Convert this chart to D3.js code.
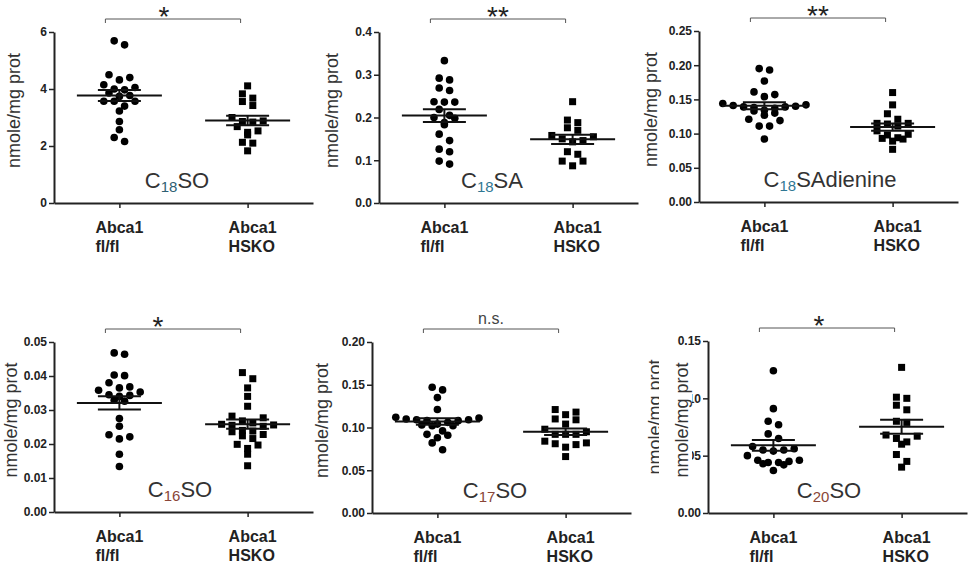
<!DOCTYPE html>
<html>
<head>
<meta charset="utf-8">
<script src="https://cdn.jsdelivr.net/npm/d3@7"></script>
<style>
body { margin: 0; background: #fff; }
text { font-family: "Liberation Sans", Arial, sans-serif; }
</style>
</head>
<body>
<svg id="chart" width="969" height="565"></svg>
<script>
var GROUPS = ["fl/fl", "HSKO"];
var GROUP_LINES = [["Abca1", "fl/fl"], ["Abca1", "HSKO"]];

// values (nmole/mg prot), one array per group
var c18so_flfl = [5.69, 5.55, 4.50, 4.40, 4.32, 4.15, 4.05, 4.00, 3.97, 3.86, 3.77, 3.74, 3.57, 3.57, 3.57, 3.40, 3.23, 2.86, 2.57, 2.30, 2.16];
var c18so_hsko = [4.11, 3.83, 3.68, 3.56, 3.42, 3.00, 2.88, 2.86, 2.84, 2.68, 2.53, 2.48, 2.39, 2.13, 2.10, 1.83];
var c18sa_flfl = [0.333, 0.292, 0.288, 0.269, 0.263, 0.237, 0.236, 0.236, 0.219, 0.205, 0.200, 0.198, 0.188, 0.183, 0.161, 0.146, 0.126, 0.120, 0.098, 0.091];
var c18sa_hsko = [0.237, 0.194, 0.188, 0.176, 0.170, 0.158, 0.155, 0.150, 0.146, 0.143, 0.120, 0.114, 0.098, 0.098, 0.087];
var c18sad_flfl = [0.195, 0.193, 0.177, 0.161, 0.157, 0.154, 0.144, 0.142, 0.141, 0.140, 0.139, 0.139, 0.138, 0.137, 0.134, 0.133, 0.130, 0.127, 0.121, 0.119, 0.111, 0.111, 0.092];
var c18sad_hsko = [0.160, 0.142, 0.129, 0.121, 0.115, 0.115, 0.114, 0.111, 0.104, 0.099, 0.098, 0.094, 0.093, 0.092, 0.089, 0.077];
var c16so_flfl = [0.0468, 0.0464, 0.0403, 0.0401, 0.0380, 0.0368, 0.0365, 0.0358, 0.0353, 0.0345, 0.0343, 0.0340, 0.0329, 0.0326, 0.0275, 0.0252, 0.0227, 0.0221, 0.0215, 0.0170, 0.0134];
var c16so_hsko = [0.0410, 0.0392, 0.0365, 0.0340, 0.0311, 0.0282, 0.0277, 0.0268, 0.0262, 0.0258, 0.0256, 0.0255, 0.0252, 0.0240, 0.0238, 0.0236, 0.0228, 0.0224, 0.0216, 0.0199, 0.0197, 0.0187, 0.0170, 0.0136];
var c17so_flfl = [0.147, 0.144, 0.135, 0.121, 0.112, 0.111, 0.110, 0.109, 0.109, 0.108, 0.108, 0.106, 0.104, 0.103, 0.102, 0.102, 0.096, 0.092, 0.091, 0.088, 0.082, 0.074];
var c17so_hsko = [0.121, 0.118, 0.115, 0.110, 0.109, 0.104, 0.098, 0.095, 0.092, 0.092, 0.092, 0.084, 0.082, 0.081, 0.080, 0.077, 0.066];
var c20so_flfl = [0.124, 0.091, 0.080, 0.077, 0.069, 0.065, 0.058, 0.056, 0.055, 0.055, 0.054, 0.050, 0.046, 0.046, 0.045, 0.044, 0.044, 0.043, 0.042, 0.037];
var c20so_hsko = [0.127, 0.101, 0.100, 0.094, 0.090, 0.080, 0.079, 0.068, 0.067, 0.065, 0.062, 0.060, 0.051, 0.045, 0.040];

var yTicks1 = [0, 2, 4, 6];
var yTicks2 = [0, 0.1, 0.2, 0.3, 0.4];
var yTicks3 = [0, 0.05, 0.10, 0.15, 0.20, 0.25];
var yTicks4 = [0, 0.01, 0.02, 0.03, 0.04, 0.05];
var yTicks5 = [0, 0.05, 0.10, 0.15, 0.20];
var yTicks6 = [0, 0.05, 0.10, 0.15];

var sigLabels = ["*", "**", "**", "*", "n.s.", "*"];

var panels = [
  {sub: "18", tail: "SO",        data: [c18so_flfl, c18so_hsko],   ticks: yTicks1, fmt: "d"},
  {sub: "18", tail: "SA",        data: [c18sa_flfl, c18sa_hsko],   ticks: yTicks2, fmt: ".1f"},
  {sub: "18", tail: "SAdienine", data: [c18sad_flfl, c18sad_hsko], ticks: yTicks3, fmt: ".2f"},
  {sub: "16", tail: "SO",        data: [c16so_flfl, c16so_hsko],   ticks: yTicks4, fmt: ".2f"},
  {sub: "17", tail: "SO",        data: [c17so_flfl, c17so_hsko],   ticks: yTicks5, fmt: ".2f"},
  {sub: "20", tail: "SO",        data: [c20so_flfl, c20so_hsko],   ticks: yTicks6, fmt: ".2f"}
];

// page layout of the six small plots
var layout = [
  {left: 54,  top: 32,  bottom: 203, yLabelX: 14,  labelX: 177, sigDx: -9,  subColor: "#2e5f73"},
  {left: 379, top: 32,  bottom: 203, yLabelX: 332, labelX: 492, sigDx: 0,   subColor: "#2f7793"},
  {left: 699, top: 31,  bottom: 202, yLabelX: 651, labelX: 830, sigDx: 0,   subColor: "#2f7793"},
  {left: 54,  top: 342, bottom: 512, yLabelX: 11,  labelX: 180, sigDx: -15, subColor: "#8a4637"},
  {left: 372, top: 342, bottom: 513, yLabelX: 322, labelX: 495, sigDx: 0,   subColor: "#8a4637"},
  {left: 708, top: 341, bottom: 513, yLabelX: 682, labelX: 829, sigDx: -8,  subColor: "#8a4637"}
];

var AXIS_W = 259;
var STEP = 10.4;   // horizontal spacing of points sharing a row
var ROW_GAP = 7;   // points closer than this (px) share a row
var MEAN_HALF = 42.5;
var SEM_HALF = 21.5;
var DOT_R = 3.8;
var SQ = 7;

var svg = d3.select("#chart");

// GraphPad-like column scatter: points in rows, spread around the column centre
function swarm(vals, y) {
  var pts = vals.map(function(v) { return {v: v, py: y(v)}; })
    .sort(function(a, b) { return a.py - b.py; });
  var rows = [], row = null;
  pts.forEach(function(p) {
    if (!row || p.py - row[0].py >= ROW_GAP) { row = [p]; rows.push(row); }
    else row.push(p);
  });
  rows.forEach(function(r) {
    var n = r.length;
    var slots = d3.range(n).map(function(i) { return (i - (n - 1) / 2) * STEP; });
    // outermost slots first, alternating sides, highest values go outside
    slots.sort(function(a, b) { return Math.abs(b) - Math.abs(a) || a - b; });
    r.sort(function(a, b) { return b.v - a.v; });
    r.forEach(function(p, i) { p.dx = slots[i]; });
  });
  return pts;
}

function yLabel(g, x, y) {
  g.append("text")
    .attr("transform", "translate(" + x + "," + y + ") rotate(-90)")
    .attr("text-anchor", "middle")
    .attr("dy", "0.35em")
    .attr("font-size", 18)
    .attr("fill", "#333")
    .text("nmole/mg prot");
}

panels.forEach(function(p, pi) {
  var L = layout[pi];
  var g = svg.append("g");
  var yMax = p.ticks[p.ticks.length - 1];
  var y = d3.scaleLinear().domain([0, yMax]).range([L.bottom, L.top]);
  var x = d3.scalePoint().domain(GROUPS).range([L.left, L.left + AXIS_W]).padding(0.51);

  var ya = g.append("g")
    .attr("transform", "translate(" + L.left + ",0)")
    .call(d3.axisLeft(y).tickValues(p.ticks).tickFormat(d3.format(p.fmt))
      .tickSize(5).tickPadding(2).tickSizeOuter(0));
  var xa = g.append("g")
    .attr("transform", "translate(0," + L.bottom + ")")
    .call(d3.axisBottom(x).tickSize(5).tickSizeOuter(0).tickFormat(""));
  [ya, xa].forEach(function(a) {
    a.select(".domain").attr("stroke", "#222").attr("stroke-width", 2);
    a.selectAll(".tick line").attr("stroke", "#222").attr("stroke-width", 1.5);
    a.selectAll(".tick text").attr("font-size", 12).attr("font-weight", "bold")
      .attr("fill", "#222").attr("font-family", "Liberation Sans, Arial, sans-serif");
  });

  // y axis title (panel 6 has a duplicated, half hidden title in the figure)
  var yMid = (L.top + L.bottom) / 2 - 7;
  if (pi == 5) {
    yLabel(g, L.yLabelX - 27, yMid - 3);
    g.append("rect").attr("x", L.yLabelX - 23).attr("y", L.top + 15)
      .attr("width", 33).attr("height", 140).attr("fill", "#fff");
  }
  yLabel(g, L.yLabelX, yMid);

  // points, mean and SEM
  p.data.forEach(function(vals, gi) {
    var cx = x(GROUPS[gi]);
    var pts = swarm(vals, y);
    if (gi == 0) {
      g.selectAll(".dot" + gi).data(pts).enter().append("circle")
        .attr("cx", function(d) { return cx + d.dx; })
        .attr("cy", function(d) { return d.py; })
        .attr("r", DOT_R).attr("fill", "#000");
    } else {
      g.selectAll(".sq" + gi).data(pts).enter().append("rect")
        .attr("x", function(d) { return cx + d.dx - SQ / 2; })
        .attr("y", function(d) { return d.py - SQ / 2; })
        .attr("width", SQ).attr("height", SQ).attr("fill", "#000");
    }
    var m = d3.mean(vals), sem = d3.deviation(vals) / Math.sqrt(vals.length);
    var lines = [
      [cx - MEAN_HALF, y(m), cx + MEAN_HALF, y(m)],
      [cx - SEM_HALF, y(m + sem), cx + SEM_HALF, y(m + sem)],
      [cx - SEM_HALF, y(m - sem), cx + SEM_HALF, y(m - sem)],
      [cx, y(m + sem), cx, y(m - sem)]
    ];
    lines.forEach(function(l) {
      g.append("line").attr("x1", l[0]).attr("y1", l[1]).attr("x2", l[2]).attr("y2", l[3])
        .attr("stroke", "#111").attr("stroke-width", 2);
    });

    // group labels under the axis
    var t = g.append("text")
      .attr("x", cx - 24 + 5 * gi)
      .attr("y", L.bottom + 30)
      .attr("font-size", 16).attr("font-weight", "bold").attr("fill", "#222");
    GROUP_LINES[gi].forEach(function(s, li) {
      t.append("tspan").attr("x", cx - 24 + 5 * gi).attr("dy", li ? 19 : 0).text(s);
    });
  });

  // significance bracket
  var bx1 = x(GROUPS[0]) - 14, bx2 = x(GROUPS[1]) - 7, by = L.top - 13;
  g.append("path")
    .attr("d", "M" + bx1 + "," + (by + 4) + "V" + by + "H" + bx2 + "V" + (by + 4))
    .attr("fill", "none").attr("stroke", "#555").attr("stroke-width", 1);
  var sig = sigLabels[pi];
  g.append("text")
    .attr("x", (bx1 + bx2) / 2 + L.sigDx)
    .attr("y", sig == "n.s." ? by - 5 : by + 7)
    .attr("text-anchor", "middle")
    .attr("font-size", sig == "n.s." ? 16 : 28)
    .attr("fill", sig == "n.s." ? "#444" : "#222")
    .text(sig);

  // analyte name, e.g. C18SO
  var nm = g.append("text")
    .attr("x", L.labelX).attr("y", L.bottom - 15)
    .attr("text-anchor", "middle")
    .attr("font-size", 22).attr("fill", "#333");
  nm.append("tspan").text("C");
  nm.append("tspan").attr("dy", 4).attr("font-size", 15).attr("fill", L.subColor).text(p.sub);
  nm.append("tspan").attr("dy", -4).text(p.tail);
});
</script>
</body>
</html>
